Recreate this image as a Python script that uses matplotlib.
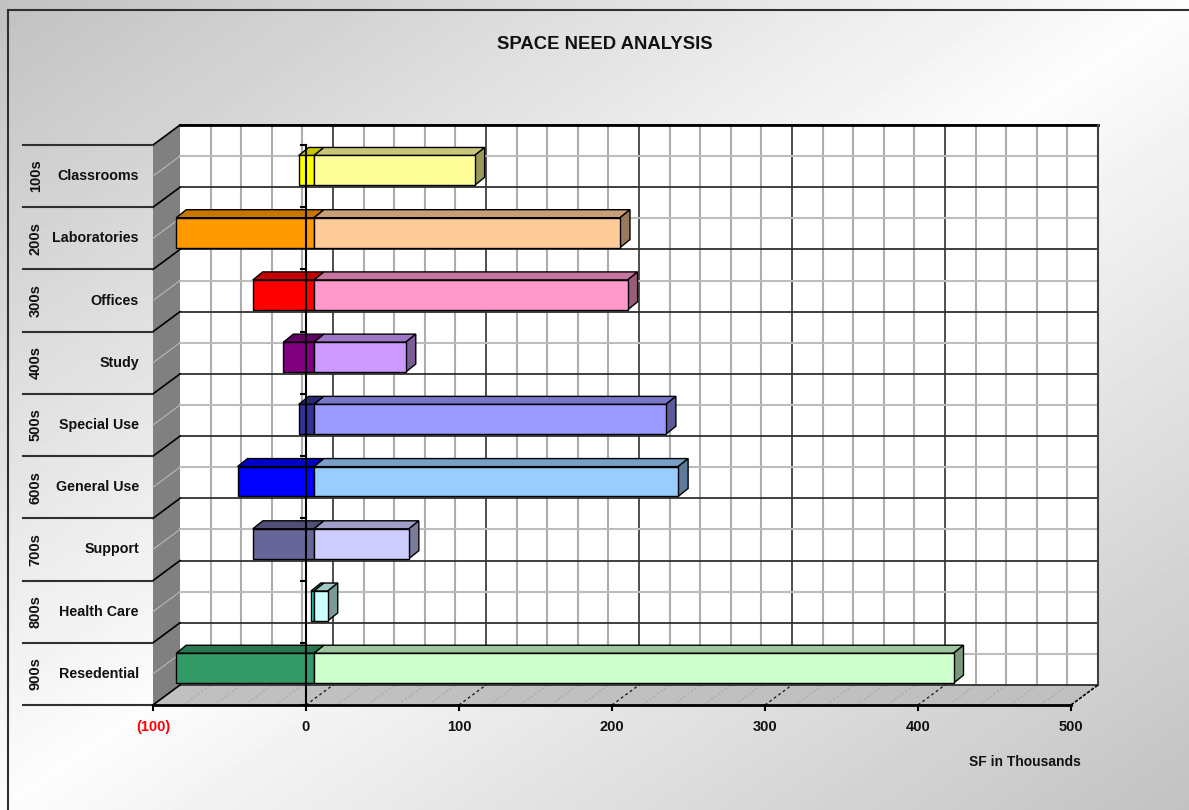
import numpy as np
import matplotlib.pyplot as plt
from matplotlib.patches import Rectangle, Polygon
from matplotlib.colors import to_rgb
from matplotlib.lines import Line2D

# space needs per category, in thousands of SF
CODES = ["100s", "200s", "300s", "400s", "500s", "600s", "700s", "800s", "900s"]
CATEGORIES = ["Classrooms", "Laboratories", "Offices", "Study", "Special Use",
              "General Use", "Support", "Health Care", "Resedential"]
SURPLUS = [-10, -90, -40, -20, -10, -50, -40, -2, -90]
NEED = [105, 200, 205, 60, 230, 238, 62, 9, 418]
DARK_COLORS = ["#FFFF00", "#FF9900", "#FF0000", "#800080", "#333399",
               "#0000FF", "#666699", "#33CCCC", "#339966"]
LIGHT_COLORS = ["#FFFF99", "#FFCC99", "#FF99CC", "#CC99FF", "#9999FF",
                "#99CCFF", "#CCCCFF", "#CCFFFF", "#CCFFCC"]
TICKS = [-100, 0, 100, 200, 300, 400, 500]
TICK_LABELS = ["(100)", "0", "100", "200", "300", "400", "500"]

XMIN, XMAX = -100, 500
N = len(CATEGORIES)

# 3d look: floor/side wall depth and bar geometry (value units, row units)
DX, DY = -17.65, 0.3214
BAR_SHIFT = -12.4
TOP_DX, TOP_DY = 6.5, -0.129
BAR_TOP, BAR_BOT = 0.49, 0.97

FONT = ["Liberation Sans", "DejaVu Sans"]
TXT = dict(family=FONT, fontweight="bold", color="#111111")


def shade(color, f):
    return tuple(c * f for c in to_rgb(color))


def draw_box(ax, x0, x1, row, color, side=True):
    yt, yb = row + BAR_TOP, row + BAR_BOT
    ax.add_patch(Polygon([(x0, yt), (x1, yt), (x1 + TOP_DX, yt + TOP_DY), (x0 + TOP_DX, yt + TOP_DY)],
                         closed=True, fc=shade(color, 0.78), ec="black", lw=1, zorder=5))
    if side:
        ax.add_patch(Polygon([(x1, yt), (x1 + TOP_DX, yt + TOP_DY), (x1 + TOP_DX, yb + TOP_DY), (x1, yb)],
                             closed=True, fc=shade(color, 0.6), ec="black", lw=1, zorder=5))
    ax.add_patch(Rectangle((x0, yt), x1 - x0, yb - yt, fc=color, ec="black", lw=1, zorder=6))


fig = plt.figure(figsize=(11.89, 8.10), dpi=100)

# diagonal gradient backdrop
bg = fig.add_axes([0, 0, 1, 1])
xx, yy = np.meshgrid(np.linspace(0, 1, 300), np.linspace(0, 1, 200))
level = 1 - np.abs(xx + yy - 1)
bg.imshow(0.76 + 0.23 * level, cmap="gray", vmin=0, vmax=1, aspect="auto", extent=[0, 1, 1, 0])
bg.axis("off")

ax = fig.add_axes([0, 0, 1, 1])
ax.patch.set_alpha(0)
ax.set_xlim(-217.65, 559.48)
ax.set_ylim(11.009, -2.009)
ax.axis("off")

# back wall, floor and side wall
ax.add_patch(Rectangle((XMIN, 0), XMAX - XMIN, N, fc="white", ec="none", zorder=1))
ax.add_patch(Polygon([(XMIN, N), (XMAX, N), (XMAX + DX, N + DY), (XMIN + DX, N + DY)],
                     closed=True, fc="#C0C0C0", ec="none", zorder=1))
ax.add_patch(Polygon([(XMIN, 0), (XMIN, N), (XMIN + DX, N + DY), (XMIN + DX, DY)],
                     closed=True, fc="#808080", ec="none", zorder=1))

# gridlines on the back wall, wrapping onto floor and side wall
for v in range(XMIN + 20, XMAX, 20):
    major = v % 100 == 0
    ax.plot([v, v], [0, N], color="#404040" if major else "#ADADAD", lw=1.3 if major else 1.5, zorder=2)
    ax.plot([v + DX, v], [N + DY, N], color="#202020" if major else "#A8A8A8",
            lw=1 if major else 0.8, ls=(0, (2, 2)), zorder=2)
for r in range(N + 1):
    ax.plot([XMIN, XMAX], [r, r], color="#303030", lw=1.3, zorder=3)
    ax.plot([XMIN + DX, XMIN], [r + DY, r], color="black", lw=1.2, zorder=3)
for r in np.arange(N) + 0.5:
    ax.plot([XMIN, XMAX], [r, r], color="#BDBDBD", lw=1.5, zorder=2)
    ax.plot([XMIN + DX, XMIN], [r + DY, r], color="#B8B8B8", lw=0.8, zorder=2)
ax.plot([XMIN, XMAX], [0, 0], color="black", lw=2, zorder=3)
ax.plot([XMAX, XMAX], [0, N], color="#404040", lw=1.5, zorder=3)
ax.plot([XMAX + DX, XMAX], [N + DY, N], color="black", lw=1.2, ls=(0, (2, 1)), zorder=3)

# bars: surplus (negative) and need (positive)
for i in range(N):
    draw_box(ax, SURPLUS[i] + BAR_SHIFT, BAR_SHIFT, i, DARK_COLORS[i], side=False)
    draw_box(ax, BAR_SHIFT, NEED[i] + BAR_SHIFT, i, LIGHT_COLORS[i])

# category axis at zero
ax.plot([DX, DX], [DY, N + DY], color="black", lw=1.5, zorder=8)
for r in range(N + 1):
    ax.plot([DX - 3.3, DX], [r + DY, r + DY], color="black", lw=1.5, zorder=8)

# value axis along the front of the floor
ax.plot([XMIN + DX, XMAX + DX], [N + DY, N + DY], color="black", lw=2, zorder=8)
for v, lab in zip(TICKS, TICK_LABELS):
    ax.plot([v + DX, v + DX], [N + DY, N + DY + 0.08], color="black", lw=1.5, zorder=8)
    style = dict(TXT, color="#FF0000" if v < 0 else TXT["color"])
    ax.text(v + DX, 9.675, lab, ha="center", va="center", fontsize=10.5, **style)
ax.text(488.9, 10.24, "SF in Thousands", ha="right", va="center", fontsize=10, **TXT)

# category table on the left
for r in range(N + 1):
    ax.plot([-202.6, -118.3], [r + DY, r + DY], color="#303030", lw=1.5, zorder=3)
for i in range(N):
    yc = i + 0.5 + DY
    ax.text(-194.3, yc, CODES[i], rotation=90, ha="center", va="center", fontsize=10.5, **TXT)
    ax.text(-126.8, yc, CATEGORIES[i], ha="right", va="center", fontsize=10.3, **TXT)

ax.text(177.8, -1.30, "SPACE NEED ANALYSIS", ha="center", va="center", fontsize=13.3, **TXT)

# chart frame
fig.add_artist(Line2D([8 / 1189, 8 / 1189], [0, 1 - 10 / 810], transform=fig.transFigure, color="#303030", lw=1.5))
fig.add_artist(Line2D([8 / 1189, 1], [1 - 10 / 810, 1 - 10 / 810], transform=fig.transFigure, color="#303030", lw=1.5))

fig.savefig("out.png", dpi=100)
